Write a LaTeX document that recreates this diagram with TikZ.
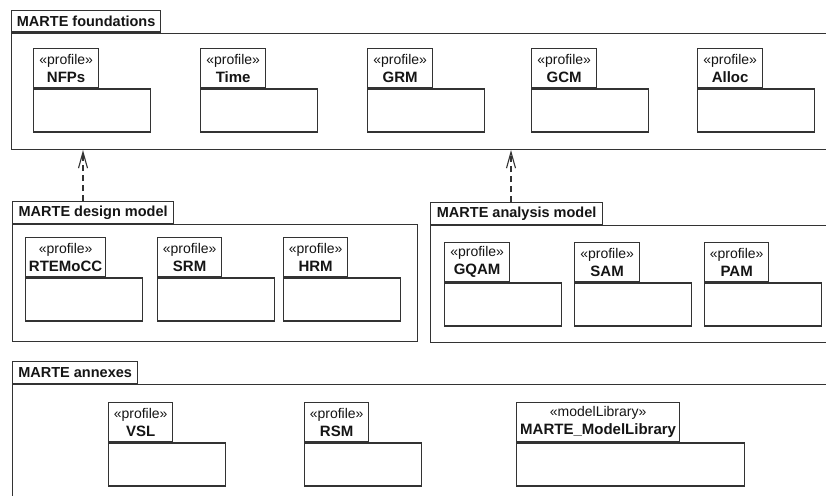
\documentclass[tikz,border=0pt]{standalone}
\usepackage{fontspec}
\setmainfont{Liberation Sans}
\usetikzlibrary{arrows.meta}
\definecolor{ln}{HTML}{333333}
\definecolor{tx}{HTML}{151515}
\tikzset{
  base/.style={draw=ln, line width=1.3pt, fill=white, inner sep=0pt, anchor=north west, text=tx},
  titlebox/.style={base, minimum height=21.5, font=\fontsize{14.5}{16}\selectfont\bfseries},
  contbox/.style={base},
  tabbox/.style={base, minimum height=39, align=center, font=\fontsize{14}{18}\selectfont},
  bodybox/.style={base, minimum height=43},
  dep/.style={draw=ln, line width=1.1pt, dash pattern=on 6pt off 4pt, -{Straight Barb[length=16pt,width=9pt,line width=1.1pt]}}
}
\newcommand\umlpkg[7]{%
  \node[tabbox, minimum width=#4] (#1-tab) at (#2,#3) {«#6»\\\fontsize{15}{18}\selectfont\textbf{#7}};
  \node[bodybox, minimum width=#5] (#1-body) at (#1-tab.south west) {};
}
\begin{document}
\begin{tikzpicture}[x=1pt,y=-1pt]
\fill[white] (0,0) rectangle (826,495);
\useasboundingbox (0,0) rectangle (826,495);
\clip (0,0) rectangle (826,495);
% MARTE foundations
\node[titlebox, minimum width=149] (fnd-tab) at (11,10) {MARTE foundations};
\node[contbox, minimum width=829, minimum height=116] (fnd) at (fnd-tab.south west) {};
\umlpkg{nfps}{33}{48}{65}{117}{profile}{NFPs}
\umlpkg{time}{200}{48}{65}{117}{profile}{Time}
\umlpkg{grm}{367}{48}{65}{117}{profile}{GRM}
\umlpkg{gcm}{531}{48}{65}{117}{profile}{GCM}
\umlpkg{alloc}{697}{48}{65}{117}{profile}{Alloc}
% MARTE design model
\node[titlebox, minimum width=161] (dm-tab) at (12,201) {MARTE design model};
\node[contbox, minimum width=405, minimum height=117] (dm) at (dm-tab.south west) {};
\umlpkg{rte}{25}{237}{80}{117}{profile}{RTEMoCC}
\umlpkg{srm}{157}{237}{64}{117}{profile}{SRM}
\umlpkg{hrm}{283}{237}{64}{117}{profile}{HRM}
% MARTE analysis model
\node[titlebox, minimum width=172] (am-tab) at (430,202) {MARTE analysis model};
\node[contbox, minimum width=410, minimum height=117] (am) at (am-tab.south west) {};
\umlpkg{gqam}{444}{242}{65}{117}{profile}{GQAM}
\umlpkg{sam}{574}{242}{65}{117}{profile}{SAM}
\umlpkg{pam}{704}{242}{64}{117}{profile}{PAM}
% MARTE annexes
\node[titlebox, minimum width=125] (ann-tab) at (12,361) {MARTE annexes};
\node[contbox, minimum width=829, minimum height=130] (ann) at (ann-tab.south west) {};
\umlpkg{vsl}{108}{402}{64}{117}{profile}{VSL}
\umlpkg{rsm}{304}{402}{64}{117}{profile}{RSM}
\umlpkg{ml}{516}{402}{163}{228}{modelLibrary}{MARTE\_ModelLibrary}
% dependencies
\draw[dep] ([xshift=71]dm-tab.north west) -- ([xshift=71]dm-tab.north west |- fnd.south);
\draw[dep] ([xshift=81]am-tab.north west) -- ([xshift=81]am-tab.north west |- fnd.south);
\end{tikzpicture}
\end{document}
